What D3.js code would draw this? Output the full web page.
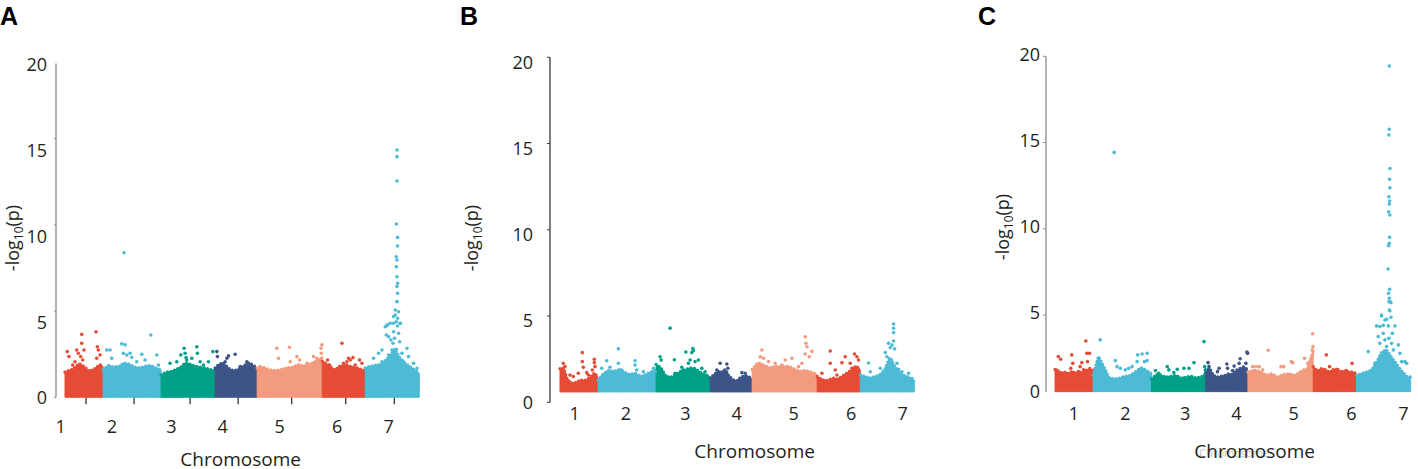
<!DOCTYPE html>
<html>
<head>
<meta charset="utf-8">
<script src="https://cdn.jsdelivr.net/npm/d3@7"></script>
<style>
body { margin: 0; background: #fff; }
svg { display: block; }
text { font-family: "Open Sans", sans-serif; fill: #231f20; }
</style>
</head>
<body>
<svg id="chart" width="1418" height="469"></svg>
<script>
var chromNames = ["1", "2", "3", "4", "5", "6", "7"];
var chromLen = [38, 58, 54, 42, 65, 43, 54];   // Mb
var chromColor = ["#E64B35", "#4DBBD5", "#00A087", "#3C5488", "#F39B7F", "#E64B35", "#4DBBD5"];
var yTickVals = [0, 5, 10, 15, 20];

// top of the dense band of markers, sampled evenly along each chromosome (-log10 p)
var bandA = [
    [1.45, 1.55, 1.6, 1.75, 1.95, 1.85, 1.7, 1.5, 1.6, 1.7, 1.9, 1.8],
    [1.6, 1.85, 1.75, 1.8, 2.0, 1.9, 1.75, 1.7, 1.8, 1.85, 1.7, 1.6],
    [1.3, 1.45, 1.5, 1.6, 1.75, 2.0, 1.9, 1.8, 1.75, 1.7, 1.6, 1.55],
    [1.7, 1.9, 2.0, 1.8, 1.6, 1.55, 1.6, 1.75, 1.9, 2.0, 1.85, 1.7],
    [1.7, 1.75, 1.6, 1.55, 1.6, 1.7, 1.75, 1.9, 1.8, 1.95, 2.1, 2.3],
    [2.1, 1.95, 1.8, 1.6, 1.7, 1.85, 1.9, 1.8, 1.75, 1.7, 1.6, 1.55],
    [1.7, 1.8, 1.85, 1.9, 2.1, 2.4, 2.8, 2.3, 2.0, 1.8, 1.6, 1.4]
];
var bandB = [
    [1.95, 2.0, 1.4, 1.15, 1.1, 1.2, 1.3, 1.25, 1.35, 1.5, 1.7, 1.45],
    [1.3, 1.65, 1.85, 1.8, 1.9, 1.75, 1.6, 1.7, 1.5, 1.6, 1.75, 1.9],
    [2.2, 2.0, 1.5, 1.45, 1.6, 1.8, 1.9, 2.0, 1.95, 1.75, 1.6, 1.5],
    [1.4, 1.6, 1.8, 1.75, 1.9, 1.5, 1.3, 1.25, 1.45, 1.55, 1.5, 1.35],
    [1.9, 2.3, 2.15, 2.0, 2.1, 2.05, 2.1, 1.95, 1.8, 1.85, 1.75, 1.6],
    [1.5, 1.35, 1.25, 1.3, 1.4, 1.35, 1.45, 1.6, 1.75, 1.95, 2.1, 1.9],
    [1.6, 1.5, 1.4, 1.5, 1.6, 1.9, 2.6, 2.1, 1.7, 1.55, 1.45, 1.2]
];
var bandC = [
    [1.85, 1.75, 1.65, 1.7, 1.6, 1.75, 1.6, 1.7, 1.65, 1.8, 1.9, 1.8],
    [1.5, 2.6, 2.0, 1.35, 1.3, 1.35, 1.45, 1.5, 1.7, 1.95, 1.8, 1.6],
    [1.3, 1.55, 1.5, 1.4, 1.45, 1.5, 1.35, 1.4, 1.45, 1.35, 1.4, 1.6],
    [1.7, 1.9, 1.5, 1.4, 1.45, 1.5, 1.6, 1.55, 1.8, 1.9, 2.0, 1.8],
    [1.7, 1.8, 1.75, 1.5, 1.6, 1.4, 1.55, 1.6, 1.5, 1.75, 1.9, 2.9],
    [2.0, 1.75, 1.9, 1.85, 1.7, 1.75, 1.8, 1.65, 1.75, 1.7, 1.7, 1.6],
    [1.5, 1.6, 1.7, 1.8, 2.2, 2.8, 3.0, 2.6, 2.2, 1.8, 1.5, 1.2]
];

// single markers above the band: [chromosome, position in chromosome (Mb), -log10 p]
var hitsA = [
    [1,2.3,2.65],[1,4,2.36],[1,11.7,2.74],[1,13.3,2.55],[1,15.7,2.36],[1,16.7,3.13],[1,16.7,3.65],[1,19,2.74],
    [1,17.7,2.16],[1,31,3.8],[1,32.3,2.93],[1,33.3,2.74],[1,35,2.45],[1,31.7,2.26],[1,10,2.06],[1,7.7,1.87],
    [2,3.7,2.74],[2,7,2.74],[2,8.7,2.26],[2,18.7,3.1],[2,22,3.04],[2,20.3,2.55],[2,23.7,2.45],[2,27,2.55],
    [2,28.7,2.32],[2,38.7,2.5],[2,42,2.16],[2,47.7,3.61],[2,53.7,2.45],[2,55.3,1.87],[2,33.7,2.06],[2,21,8.38],
    [3,9,1.97],[3,15.7,2.06],[3,23,2.84],[3,24,2.55],[3,25,2.3],[3,25.7,2.16],[3,27.3,1.87],[3,30.7,2.26],
    [3,35.7,2.93],[3,36.3,2.55],[3,39,2.06],[3,42.3,1.87],[3,47.3,2.06],[3,51.7,2.65],[3,19.7,2.45],
    [4,1.7,2.65],[4,2.3,2.36],[4,10,2.06],[4,11.7,2.26],[4,13.3,2.4],[4,20,2.5],[4,25,1.78],[4,31.7,2.06],
    [4,33.3,1.97],[4,36.7,1.78],
    [5,3,1.78],[5,6.3,1.68],[5,19.7,2.84],[5,21.3,2.26],[5,32.3,2.9],[5,33,2.06],[5,39.7,2.36],[5,42.3,2.16],
    [5,49.7,1.97],[5,56.3,2.36],[5,59.7,2.26],[5,64.7,3.04],[5,63.8,2.84],[5,64.2,2.55],
    [6,5.3,2.16],[6,7.3,1.87],[6,19.7,3.13],[6,21.3,1.97],[6,24.7,2.06],[6,26.3,2.26],[6,28,2.16],[6,30.7,2.3],
    [6,33,1.87],[6,37.3,2.16],[6,39.7,1.97],[6,17.3,1.78],
    [7,8.3,2.26],[7,13.3,2.55],[7,16.7,2.74],[7,20,4.09],[7,22.3,4.19],[7,25,4.29],[7,21,3.61],[7,23.3,3.51],
    [7,25.7,3.32],[7,27.7,3.13],[7,29.3,3.42],[7,31,4.38],[7,32.3,4.13],[7,35,4.29],[7,33.3,3.71],[7,34.3,3.22],
    [7,28.3,3.8],[7,31,2.78],[7,26.7,2.74],[7,28.3,4.68],[7,30,5.06],[7,31.7,5.55],[7,41.7,2.84],[7,43.3,2.36],
    [7,48.3,1.97],[7,51.7,1.68],[7,23.3,2.45],[7,36.7,2.55],[7,38.3,2.06],[7,16.7,2.06],
    [7,31.7,14.34],[7,31.7,13.95],[7,31.7,12.54],[7,31,10.05],[7,32.3,9.27],[7,32.3,8.77],[7,31,8.15],
    [7,31.7,7.96],[7,31,7.57],[7,31.7,6.99],[7,32.3,6.61],[7,31.7,6.42],[7,32.3,6.03],[7,31.7,5.54],
    [7,30,4.77],[7,32.3,4.58],[7,28.3,4.29],[7,35,4.29],[7,21.7,4.19],[7,33.3,4.96]
];
var hitsB = [
    [1,3.3,2.26],[1,5,2.07],[1,10,1.58],[1,13.3,1.49],[1,18.3,1.68],[1,22.3,2.88],[1,22.3,2.36],[1,23.3,2.03],
    [1,26.7,1.72],[1,28.3,1.58],[1,34.3,2.5],[1,34.3,2.3],[1,35,2.07],[1,32.3,1.87],
    [2,3.7,1.97],[2,8.7,2.41],[2,12,2.03],[2,20.3,3.1],[2,20.3,2.26],[2,23.7,1.87],[2,37,2.41],[2,37,2.16],
    [2,38.7,1.87],[2,45.3,1.77],[2,55.3,1.97],[2,57,1.77],
    [3,4,2.64],[3,5,2.45],[3,14,4.3],[3,18.3,2.47],[3,25.7,2.03],[3,27.3,1.87],[3,29.7,2.92],[3,32.3,2.26],
    [3,34,2.45],[3,35.7,2.88],[3,36.7,3.12],[3,37.3,3.0],[3,39,2.36],[3,42.3,2.45],[3,45.7,1.97],[3,49,1.77],
    [3,30.7,1.77],[3,19,1.68],
    [4,10,2.26],[4,16.7,2.22],[4,17.7,1.97],[4,13.3,1.77],[4,31.7,1.72],[4,35,1.68],[4,6.7,1.87],
    [5,9.7,3.03],[5,8,2.64],[5,11.3,2.55],[5,16.3,2.36],[5,23,2.26],[5,33,2.45],[5,39.7,2.55],[5,49.7,2.26],
    [5,53,3.8],[5,53.7,3.42],[5,54.7,3.22],[5,53,2.8],[5,57,2.64],[5,59.7,2.95],[5,46.3,2.07],[5,29.7,2.16],
    [6,4.7,1.68],[6,13,2.97],[6,13,2.26],[6,18,1.87],[6,19.7,1.58],[6,24.7,2.3],[6,28,2.64],[6,33,2.26],
    [6,34.7,1.97],[6,37.3,2.8],[6,39.7,2.64],[6,41.3,2.45],
    [7,8.3,2.28],[7,10,1.77],[7,20,1.97],[7,25,2.88],[7,26.7,2.64],[7,28.3,3.42],[7,30,3.18],[7,31.7,3.32],
    [7,33.3,3.55],[7,33.3,4.54],[7,33.3,4.29],[7,33.3,4.04],[7,34.3,3.1],[7,31,2.45],[7,36.7,2.26],
    [7,38.3,1.91],[7,41.7,1.77],[7,48.3,1.68],[7,51.7,1.38]
];
var hitsC = [
    [1,3.3,2.59],[1,5.7,2.44],[1,1,1.82],[1,16.7,2.69],[1,17.7,2.2],[1,15.7,1.91],[1,25,2.01],[1,26.7,2.24],
    [1,30.7,3.5],[1,31.7,2.78],[1,32.3,2.3],[1,28.3,1.82],[1,34.3,2.78],[1,23.3,1.72],
    [2,7,3.56],[2,22,2.36],[2,23.7,2.01],[2,27,1.91],[2,32,1.82],[2,35.3,1.91],[2,38.7,2.01],[2,43.7,2.3],
    [2,44.3,2.69],[2,48.7,2.74],[2,53.7,2.78],[2,51,2.3],[2,53.7,2.36],[2,20.9,14.43],
    [3,4,1.78],[3,7.3,1.62],[3,15.7,2.01],[3,17.3,1.82],[3,25.7,1.86],[3,32.3,1.91],[3,37.3,1.91],[3,42.3,2.24],
    [3,52.3,3.46],[3,53,2.01],[3,53.6,1.82],[3,22.3,1.66],
    [4,2.3,2.24],[4,3.3,2.01],[4,11.7,1.72],[4,13.3,1.91],[4,21,2.16],[4,21.7,1.91],[4,26.7,1.78],[4,28.3,2.04],
    [4,34.3,2.47],[4,33.3,2.2],[4,41,2.86],[4,41.7,2.78],[4,40,2.2],
    [5,4.7,2.01],[5,8,2.01],[5,11.3,2.01],[5,14.7,1.82],[5,20.3,2.96],[5,33,2.01],[5,35.7,2.01],[5,43,2.3],
    [5,44.7,2.24],[5,56.3,2.49],[5,59.7,2.2],[5,64.5,3.92],[5,64.8,3.17],[5,64,2.98],
    [6,13,2.69],[6,16.3,2.01],[6,19.7,1.82],[6,23,1.86],[6,24.7,1.82],[6,28,1.72],[6,33,1.78],[6,38.7,2.2],
    [7,11.7,2.88],[7,16.7,1.82],[7,20,4.37],[7,23.3,4.33],[7,25,4.95],[7,26.7,4.4],[7,28.3,4.71],[7,31.7,4.37],
    [7,34.3,4.87],[7,35.7,3.94],[7,38.3,4.37],[7,33.3,5.25],[7,32.3,5.77],[7,34.3,5.72],[7,21.7,3.75],
    [7,23.3,3.36],[7,26.7,3.94],[7,28.3,3.56],[7,30,3.17],[7,32.3,3.65],[7,35,3.36],[7,36.7,2.98],[7,41.7,3.27],
    [7,43.3,2.78],[7,45,2.3],[7,48.3,2.3],[7,50,2.2],[7,53.3,1.4],[7,25,2.69],[7,28.3,2.3],[7,38.3,2.01],
    [7,18.3,2.2],
    [7,32.7,19.44],[7,32.7,15.77],[7,32.3,15.44],[7,33.3,13.5],[7,33,12.87],[7,33.3,12.38],[7,32.3,11.86],
    [7,33,11.61],[7,32.7,11.44],[7,32,10.99],[7,33.3,10.8],[7,33,9.51],[7,32.7,9.16],[7,32,9.02],[7,31.5,7.67],
    [7,33,6.49],[7,32,6.26],[7,32.7,5.97],[7,33.3,5.78],[7,32.7,5.29],[7,25,5.0],[7,30,4.75]
];

var chromStart = Array.from(d3.cumsum([0].concat(chromLen)));
var genomeLen = chromStart[chromStart.length - 1];

// layout of the three panels (pixels)
var panels = [
    {letter: "A", band: bandA, hits: hitsA, base: 0, x0: 65, x1: 419.3, y0: 397.3, axisX: 56,
     axisTop: 19.35, axisBottom: 0, axisColor: "#8c8c8c", ticks: [0, 5, 10, 15], tickLen: 2,
     labelGap: 9, labelDy: 12, xLabelY: 427, titleY: 459, shift: 0, letterX: 0, chromTicks: true,
     ylabX: 13, ylabY: 238},
    {letter: "B", band: bandB, hits: hitsB, base: 0.6, x0: 560, x1: 914.3, y0: 402.3, axisX: 550,
     axisTop: 20, axisBottom: 0, axisColor: "#3a3a3a", ticks: [0, 5, 10, 15, 20], tickLen: 3,
     labelGap: 17, labelDy: 5, xLabelY: 414, titleY: 451, shift: 19, letterX: 460, chromTicks: false,
     ylabX: 472, ylabY: 238},
    {letter: "C", band: bandC, hits: hitsC, base: 0.56, x0: 1055, x1: 1410.7, y0: 401.3, axisX: 1046,
     axisTop: 20, axisBottom: 0.56, axisColor: "#8c8c8c", ticks: [5, 10, 15, 20], tickLen: 3,
     labelGap: 6, labelDy: -2, xLabelY: 414, titleY: 451, shift: 23.3, letterX: 978, chromTicks: false,
     ylabX: 1003, ylabY: 227, ghost: true}
];

var svg = d3.select("#chart");

function drawPanel(p) {
    var g = svg.append("g");
    var x = d3.scaleLinear().domain([0, genomeLen]).range([p.x0, p.x1]);
    var y = d3.scaleLinear().domain([0, 20]).range([p.y0, p.y0 - 20 * 17.25]);

    // panel letter
    svg.append("text").attr("x", p.letterX).attr("y", 25)
        .style("font-family", "'Liberation Sans', Arial, sans-serif")
        .style("font-weight", "bold").style("font-size", "25px").style("fill", "#000")
        .text(p.letter);

    // dense band per chromosome: solid body plus a dotted upper edge
    var area = d3.area()
        .x(d => x(d.pos))
        .y0(y(p.base))
        .y1(d => y(d.val));
    var edge = d3.line()
        .x(d => x(d.pos))
        .y(d => y(d.val));
    p.band.forEach((vals, ci) => {
        var n = vals.length;
        var pts = vals.map((v, i) => ({pos: chromStart[ci] + i * chromLen[ci] / (n - 1), val: v}));
        g.append("path").datum(pts).attr("d", area)
            .attr("fill", chromColor[ci])
            .attr("stroke", chromColor[ci]).attr("stroke-width", 1).attr("stroke-linejoin", "round");
        g.append("path").datum(pts).attr("d", edge)
            .attr("fill", "none")
            .attr("stroke", chromColor[ci]).attr("stroke-width", 3.4)
            .attr("stroke-linecap", "round").attr("stroke-dasharray", "0 3.6");
    });

    // individual markers
    g.selectAll("circle.hit").data(p.hits).join("circle")
        .attr("class", "hit")
        .attr("cx", d => x(chromStart[d[0] - 1] + d[1]))
        .attr("cy", d => y(d[2]))
        .attr("r", 1.8)
        .attr("fill", d => chromColor[d[0] - 1]);

    // y axis
    g.append("line")
        .attr("x1", p.axisX).attr("x2", p.axisX)
        .attr("y1", y(p.axisTop)).attr("y2", y(p.axisBottom))
        .attr("stroke", p.axisColor).attr("stroke-width", 1.3);
    g.selectAll("line.ytick").data(p.ticks).join("line")
        .attr("class", "ytick")
        .attr("x1", p.axisX - p.tickLen).attr("x2", p.axisX)
        .attr("y1", d => y(d)).attr("y2", d => y(d))
        .attr("stroke", p.axisColor).attr("stroke-width", 1);
    g.selectAll("text.ylab").data(yTickVals).join("text")
        .attr("class", "ylab")
        .attr("x", p.axisX - p.labelGap)
        .attr("y", d => d === 0 ? y(p.axisBottom) : y(d) + p.labelDy)
        .attr("dy", "0.35em")
        .attr("text-anchor", "end")
        .style("font-size", "18px")
        .text(d => d);

    // y title
    var yt = g.append("text")
        .attr("transform", `translate(${p.ylabX},${p.ylabY}) rotate(-90)`)
        .attr("text-anchor", "middle").attr("dy", "0.35em")
        .style("font-size", "18px");
    yt.append("tspan").text("-log");
    yt.append("tspan").attr("dy", 4).style("font-size", "12px").text("10");
    yt.append("tspan").attr("dy", -4).text("(p)");

    // chromosome ticks and labels
    var centers = chromLen.map((l, i) => chromStart[i] + l / 2);
    if (p.chromTicks) {
        g.selectAll("line.xtick").data(centers).join("line")
            .attr("class", "xtick")
            .attr("x1", d => x(d) + 2).attr("x2", d => x(d) + 2)
            .attr("y1", p.y0 + 0.5).attr("y2", p.y0 + 7)
            .attr("stroke", "#222").attr("stroke-width", 1.2);
    }
    g.selectAll("text.xlab").data(centers).join("text")
        .attr("class", "xlab")
        .attr("x", d => x(d * 1.064 - 24.5) + p.shift)
        .attr("y", p.xLabelY).attr("dy", "0.35em")
        .attr("text-anchor", "middle")
        .style("font-size", "18px")
        .text((d, i) => chromNames[i]);

    if (p.ghost) {
        g.append("text")
            .attr("x", x(genomeLen / 2) + p.shift - 22).attr("y", p.titleY + 6)
            .attr("text-anchor", "middle")
            .style("font-size", "11px").style("fill", "#c4c4c4")
            .text("Chromosome");
    }
    g.append("text")
        .attr("x", x(genomeLen / 2) + p.shift - 1.5)
        .attr("y", p.titleY).attr("dy", "0.35em")
        .attr("text-anchor", "middle")
        .style("font-size", "19px")
        .text("Chromosome");
}

panels.forEach(drawPanel);
</script>
</body>
</html>
